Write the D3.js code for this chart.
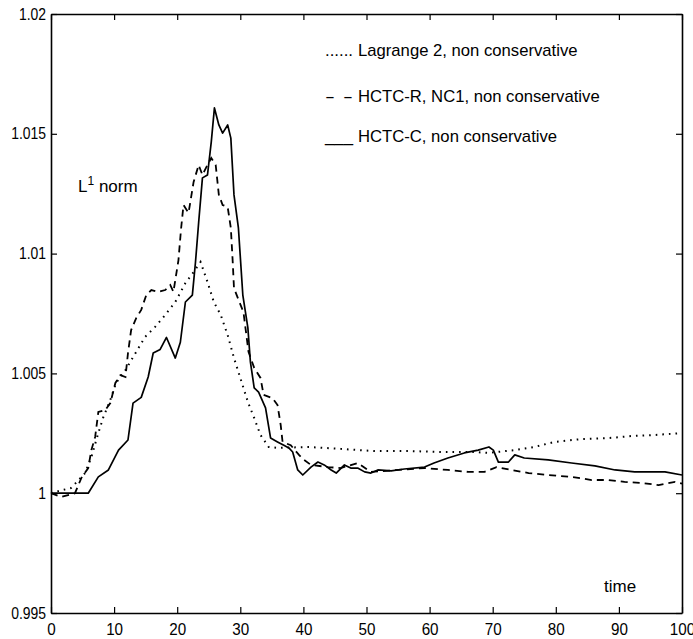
<!DOCTYPE html>
<html>
<head>
<meta charset="utf-8">
<script src="https://cdn.jsdelivr.net/npm/d3@7"></script>
<style>
  body { margin: 0; background: #fff; }
  svg { display: block; }
  text { font-family: "Liberation Sans", Arial, Helvetica, sans-serif; fill: #000; }
</style>
</head>
<body>
<div id="chart"></div>
<script>
// ---- data ----
const xTicks = [0, 10, 20, 30, 40, 50, 60, 70, 80, 90, 100];
const yTicks = [0.995, 1, 1.005, 1.01, 1.015, 1.02];

const seriesNames = [
  "Lagrange 2, non conservative",
  "HCTC-R, NC1, non conservative",
  "HCTC-C, non conservative"
];
const legendMarks = ["......", "-   -", "___"];

// Lagrange 2 (dotted)
const lagrange2 = [
  [0, 1.0], [0.6, 1.00005], [3.2, 1.00022], [5.4, 1.00084], [6.4, 1.00151],
  [7.5, 1.00251], [8.3, 1.00318], [9.4, 1.00389], [10.3, 1.0046], [11.8, 1.00514],
  [13.4, 1.00585], [14.9, 1.00652], [16.5, 1.00694], [18.1, 1.00744], [19.7, 1.00798],
  [21.3, 1.00877], [22.6, 1.00923], [23.7, 1.00965], [24.8, 1.00882], [25.8, 1.00798],
  [26.9, 1.00744], [28.0, 1.0066], [29.0, 1.00564], [30.0, 1.00481], [31.2, 1.00381],
  [32.2, 1.00314], [33.2, 1.00243], [34.5, 1.00193], [35.9, 1.00189], [40.7, 1.00193],
  [45.9, 1.00185], [51.2, 1.00176], [56.6, 1.00176], [61.8, 1.00172], [67.1, 1.00172],
  [69.3, 1.00168], [73.5, 1.0018], [76.6, 1.00193], [79.8, 1.00214], [84.1, 1.00226],
  [88.4, 1.0023], [92.1, 1.00239], [95.7, 1.00243], [100, 1.00251]
];

// HCTC-R, NC1 (dashed)
const hctcR = [
  [0, 1.0], [1.6, 0.99984], [3.8, 1.0], [4.8, 1.00063], [5.9, 1.00105],
  [6.4, 1.0018], [7.0, 1.00235], [7.5, 1.00339], [8.6, 1.00347], [9.4, 1.00376],
  [10.2, 1.0046], [11.0, 1.00493], [11.8, 1.00485], [12.2, 1.00585], [12.7, 1.00681],
  [13.5, 1.00731], [14.3, 1.00765], [15.1, 1.00827], [15.9, 1.00848], [17.0, 1.0084],
  [18.1, 1.00848], [18.9, 1.00869], [19.4, 1.0084], [20.2, 1.00973], [20.6, 1.011],
  [21.0, 1.01203], [21.8, 1.0117], [22.6, 1.01299], [23.4, 1.0137], [24.0, 1.01328],
  [24.8, 1.0137], [25.4, 1.01399], [26.1, 1.0137], [26.6, 1.01245], [27.2, 1.01203],
  [28.0, 1.01194], [28.5, 1.01107], [28.8, 1.00965], [29.0, 1.00856], [29.6, 1.00815],
  [30.5, 1.00756], [31.3, 1.0059], [32.2, 1.00523], [33.2, 1.00481], [33.7, 1.0041],
  [35.1, 1.00397], [35.9, 1.00368], [36.4, 1.00285], [36.7, 1.00214], [38.0, 1.002],
  [39.3, 1.0016], [40.1, 1.00139], [41.2, 1.00118], [43.9, 1.00109], [45.9, 1.00105],
  [48.6, 1.00126], [50.7, 1.00089], [54.0, 1.00095], [59.2, 1.00105], [62.9, 1.00097],
  [66.1, 1.00089], [68.7, 1.00089], [70.6, 1.00109], [73.0, 1.00097], [75.7, 1.00084],
  [78.8, 1.00076], [82.5, 1.00068], [85.7, 1.00055], [88.4, 1.00055], [90.9, 1.00047],
  [93.6, 1.00043], [96.3, 1.00034], [98.9, 1.00047], [100, 1.0004]
];

// HCTC-C (solid)
const hctcC = [
  [0, 1.0], [3.0, 1.0], [5.9, 1.0], [7.5, 1.00068], [9.1, 1.00097],
  [10.7, 1.0018], [12.2, 1.00222], [13.0, 1.00376], [14.3, 1.0040], [15.4, 1.00485],
  [16.2, 1.00585], [17.3, 1.0060], [18.3, 1.0065], [19.7, 1.00564], [20.5, 1.0063],
  [21.3, 1.00798], [22.4, 1.00827], [22.9, 1.00965], [23.4, 1.0113], [24.0, 1.01316],
  [24.8, 1.01328], [25.4, 1.01466], [25.9, 1.01608], [26.6, 1.01537], [27.2, 1.01503],
  [28.0, 1.01537], [28.5, 1.01482], [29.0, 1.01245], [29.7, 1.01107], [30.4, 1.00827],
  [31.2, 1.0069], [31.6, 1.00548], [32.2, 1.0044], [32.9, 1.00422], [34.0, 1.00356],
  [34.8, 1.0023], [35.9, 1.00214], [36.9, 1.002], [37.7, 1.00189], [38.3, 1.00172],
  [39.1, 1.00097], [39.9, 1.00076], [41.2, 1.00109], [42.3, 1.0013], [43.3, 1.00118],
  [44.4, 1.00097], [45.2, 1.00084], [46.5, 1.00118], [47.5, 1.00105], [48.6, 1.00105],
  [49.7, 1.00089], [50.7, 1.00084], [51.8, 1.00097], [53.9, 1.00093], [56.0, 1.00101],
  [59.2, 1.00109], [60.7, 1.00126], [62.9, 1.00147], [65.5, 1.00168], [67.7, 1.0018],
  [69.4, 1.00193], [70.1, 1.0018], [70.9, 1.0013], [72.5, 1.0013], [73.5, 1.0016],
  [75.0, 1.00147], [78.8, 1.00139], [82.5, 1.00126], [86.2, 1.00114], [89.4, 1.00097],
  [92.5, 1.00089], [94.7, 1.00089], [97.3, 1.00089], [100, 1.00076]
];

// ---- layout ----
const width = 693, height = 639;
const margin = { left: 51, top: 14, right: 11, bottom: 26 };

const svg = d3.select("#chart").append("svg")
  .attr("width", width)
  .attr("height", height);

const x = d3.scaleLinear().domain([0, 100]).range([margin.left, width - margin.right]);
const y = d3.scaleLinear().domain([0.995, 1.02]).range([height - margin.bottom, margin.top]);

// squeeze text horizontally, the figure uses a narrow face
function squeeze(sel, k) {
  sel.each(function() {
    const w = this.getComputedTextLength();
    d3.select(this).attr("textLength", w * k).attr("lengthAdjust", "spacingAndGlyphs");
  });
}

function fmtY(d) { return String(+d.toFixed(3)); }

// ---- axes (ticks inward on all four sides) ----
const tickLen = 6;

const gBottom = svg.append("g")
  .attr("transform", `translate(0,${y(0.995)})`)
  .call(d3.axisBottom(x).tickValues(xTicks).tickSizeInner(-tickLen).tickSizeOuter(0).tickPadding(11));
gBottom.selectAll("text").attr("font-size", 16);

svg.append("g")
  .attr("transform", `translate(0,${y(1.02)})`)
  .call(d3.axisTop(x).tickValues(xTicks).tickSizeInner(-tickLen).tickSizeOuter(0).tickFormat(""));

const gLeft = svg.append("g")
  .attr("transform", `translate(${x(0)},0)`)
  .call(d3.axisLeft(y).tickValues(yTicks).tickFormat(fmtY).tickSizeInner(-tickLen).tickSizeOuter(0).tickPadding(5));
gLeft.selectAll("text").attr("font-size", 16);

svg.append("g")
  .attr("transform", `translate(${x(100)},0)`)
  .call(d3.axisRight(y).tickValues(yTicks).tickSizeInner(-tickLen).tickSizeOuter(0).tickFormat(""));

svg.selectAll(".domain").attr("stroke", "#000").attr("stroke-width", 1.6);
svg.selectAll(".tick line").attr("stroke", "#000").attr("stroke-width", 1.2);
svg.selectAll(".tick text").attr("font-family", "\"Liberation Sans\", Arial, sans-serif");
gLeft.selectAll("text").call(squeeze, 0.87);
gBottom.selectAll("text").call(squeeze, 0.95);

// ---- lines ----
const line = d3.line()
  .x(d => x(d[0]))
  .y(d => y(d[1]));

svg.append("path")
  .datum(lagrange2)
  .attr("fill", "none")
  .attr("stroke", "#000")
  .attr("stroke-width", 2)
  .attr("stroke-dasharray", "1.6,5")
  .attr("d", line);

svg.append("path")
  .datum(hctcR)
  .attr("fill", "none")
  .attr("stroke", "#000")
  .attr("stroke-width", 1.8)
  .attr("stroke-dasharray", "7,5")
  .attr("d", line);

svg.append("path")
  .datum(hctcC)
  .attr("fill", "none")
  .attr("stroke", "#000")
  .attr("stroke-width", 1.7)
  .attr("stroke-linejoin", "round")
  .attr("d", line);

// ---- legend (text marks, as in the original) ----
const legendY = [56, 102, 142];
const legend = svg.append("g");
seriesNames.forEach((name, i) => {
  legend.append("text")
    .attr("x", 325)
    .attr("y", legendY[i])
    .attr("font-size", 17)
    .attr("textLength", 28)
    .attr("lengthAdjust", "spacingAndGlyphs")
    .text(legendMarks[i]);
  legend.append("text")
    .attr("class", "legend-label")
    .attr("x", 358)
    .attr("y", legendY[i])
    .attr("font-size", 17)
    .text(name);
});
legend.selectAll(".legend-label").call(squeeze, 0.98);

// ---- axis labels ----
const yLab = svg.append("text")
  .attr("x", 78)
  .attr("y", 192)
  .attr("font-size", 17);
yLab.append("tspan").text("L");
yLab.append("tspan").attr("dy", -7).attr("font-size", 12).text("1");
yLab.append("tspan").attr("dy", 7).text(" norm");

svg.append("text")
  .attr("x", 604)
  .attr("y", 592)
  .attr("font-size", 17)
  .text("time");
</script>
</body>
</html>
